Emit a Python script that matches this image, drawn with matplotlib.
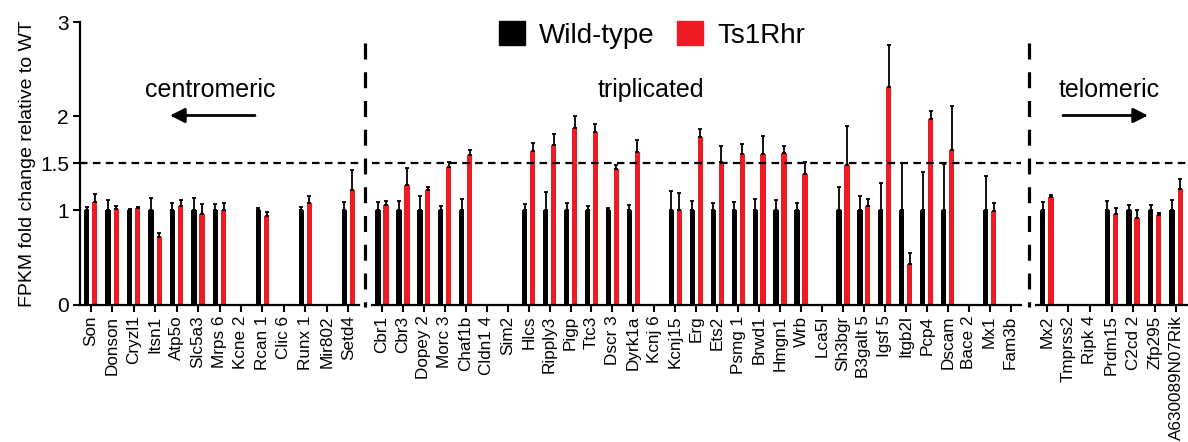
import matplotlib.pyplot as plt
import numpy as np
from matplotlib.lines import Line2D
from matplotlib.patches import Patch, FancyArrowPatch

plt.rcParams['font.family'] = ['Liberation Sans', 'DejaVu Sans']

nan = np.nan

# centromeric genes
cen_genes = ['Son', 'Donson', 'Cryzl1', 'Itsn1', 'Atp5o', 'Slc5a3', 'Mrps 6',
             'Kcne 2', 'Rcan 1', 'Clic 6', 'Runx 1', 'Mir802', 'Setd4']
cen_wt = [1, 1, 1, 1, 1, 1, 1, nan, 1, nan, 1, nan, 1]
cen_wt_err = [0.035, 0.11, 0.015, 0.13, 0.08, 0.13, 0.065, nan, 0.03, nan, 0.035, nan, 0.09]
cen_ts = [1.085, 1.02, 1.03, 0.72, 1.045, 0.965, 1.0, nan, 0.945, nan, 1.075, nan, 1.22]
cen_ts_err = [0.095, 0.03, 0.01, 0.04, 0.065, 0.10, 0.075, nan, 0.035, nan, 0.075, nan, 0.21]

# triplicated genes
tri_genes = ['Cbr1', 'Cbr3', 'Dopey 2', 'Morc 3', 'Chaf1b', 'Cldn1 4', 'Sim2', 'Hlcs',
             'Ripply3', 'Pigp', 'Ttc3', 'Dscr 3', 'Dyrk1a', 'Kcnj 6', 'Kcnj15', 'Erg',
             'Ets2', 'Psmg 1', 'Brwd1', 'Hmgn1', 'Wrb', 'Lca5l', 'Sh3bgr', 'B3galt 5',
             'Igsf 5', 'Itgb2l', 'Pcp4', 'Dscam', 'Bace 2', 'Mx1', 'Fam3b']
tri_wt = [1, 1, 1, 1, 1, nan, nan, 1, 1, 1, 1, 1, 1, nan, 1, 1,
          1, 1, 1, 1, 1, nan, 1, 1, 1, 1, 1, 1, nan, 1, nan]
tri_wt_err = [0.085, 0.10, 0.15, 0.045, 0.12, nan, nan, 0.065, 0.195, 0.075, 0.045, 0.03,
              0.06, nan, 0.21, 0.095, 0.08, 0.09, 0.12, 0.115, 0.08, nan, 0.25, 0.15,
              0.29, 0.5, 0.41, 0.49, nan, 0.37, nan]
tri_ts = [1.055, 1.27, 1.22, 1.46, 1.585, nan, nan, 1.63, 1.695, 1.88, 1.83, 1.44,
          1.62, nan, 1.0, 1.78, 1.52, 1.605, 1.6, 1.61, 1.39, nan, 1.485, 1.045,
          2.31, 0.435, 1.97, 1.64, nan, 0.995, nan]
tri_ts_err = [0.045, 0.18, 0.03, 0.06, 0.055, nan, nan, 0.09, 0.12, 0.12, 0.09, 0.045,
              0.13, nan, 0.19, 0.09, 0.17, 0.105, 0.19, 0.07, 0.12, nan, 0.415, 0.075,
              0.45, 0.115, 0.09, 0.47, nan, 0.085, nan]

# telomeric genes
tel_genes = ['Mx2', 'Tmprss2', 'Ripk 4', 'Prdm15', 'C2cd 2', 'Zfp295', 'A630089N07Rik']
tel_wt = [1, nan, nan, 1, 1, 1, 1]
tel_wt_err = [0.085, nan, nan, 0.095, 0.055, 0.055, 0.11]
tel_ts = [1.14, nan, nan, 0.965, 0.92, 0.95, 1.225]
tel_ts_err = [0.025, nan, nan, 0.065, 0.085, 0.02, 0.105]

RED = '#ED1C24'
W, H = 1188, 442

fig = plt.figure(figsize=(W / 100, H / 100), dpi=100)

bottom = 137.5 / H
height = 282.2 / H
ax_l = fig.add_axes([80 / W, bottom, 279 / W, height])
ax_m = fig.add_axes([371.5 / W, bottom, 649.5 / W, height])
ax_r = fig.add_axes([1036 / W, bottom, 151 / W, height])

groups = [
    (ax_l, cen_genes, cen_wt, cen_wt_err, cen_ts, cen_ts_err),
    (ax_m, tri_genes, tri_wt, tri_wt_err, tri_ts, tri_ts_err),
    (ax_r, tel_genes, tel_wt, tel_wt_err, tel_ts, tel_ts_err),
]

bw = 0.25
off = 0.19
for ax, genes, wt, wt_err, ts, ts_err in groups:
    x = np.arange(len(genes))
    wt = np.array(wt, dtype=float)
    ts = np.array(ts, dtype=float)
    ax.bar(x - off, wt, width=bw, color='black')
    ax.bar(x + off, ts, width=bw, color=RED)
    ax.errorbar(x - off, wt, yerr=[np.zeros(len(x)), wt_err], fmt='none',
                ecolor='black', elinewidth=1.3, capsize=1.5, capthick=1.3)
    ax.errorbar(x + off, ts, yerr=[np.zeros(len(x)), ts_err], fmt='none',
                ecolor='black', elinewidth=1.3, capsize=1.5, capthick=1.3)
    ax.axhline(1.5, color='black', lw=1.6, ls=(0, (3.4, 2.4)))
    ax.set_xlim(-0.5, len(genes) - 0.5)
    ax.set_ylim(0, 3)
    ax.set_xticks(x)
    ax.set_xticklabels(genes, rotation=90, fontsize=12.3)
    ax.tick_params(axis='x', length=5, width=1.5, pad=3)
    for s in ['top', 'right', 'left']:
        ax.spines[s].set_visible(False)
    ax.spines['bottom'].set_linewidth(1.6)
    ax.patch.set_alpha(0)

ax_l.spines['left'].set_visible(True)
ax_l.spines['left'].set_linewidth(1.6)
ax_l.set_yticks([0, 1, 1.5, 2, 3])
ax_l.set_yticklabels(['0', '1', '1.5', '2', '3'], fontsize=15)
ax_l.tick_params(axis='y', length=5, width=1.5, pad=3)
ax_l.set_ylabel('FPKM fold change relative to WT', fontsize=14, labelpad=3)
for ax in (ax_m, ax_r):
    ax.set_yticks([])

# dashed dividers between regions
for xp in (364.5, 1029):
    fig.add_artist(Line2D([xp / W, xp / W], [1 - 43 / H, 1 - 307 / H],
                          transform=fig.transFigure, color='black', lw=2.3,
                          ls=(0, (5, 4))))

# region labels and arrows
fig.text(210 / W, 1 - 90 / H, 'centromeric', fontsize=18, ha='center', va='center')
fig.text(651 / W, 1 - 90 / H, 'triplicated', fontsize=18, ha='center', va='center')
fig.text(1109 / W, 1 - 90 / H, 'telomeric', fontsize=18, ha='center', va='center')
arrow = dict(arrowstyle='-|>', lw=2, color='black', mutation_scale=22,
             shrinkA=0, shrinkB=0)
fig.add_artist(FancyArrowPatch((255 / W, 1 - 115.5 / H), (170 / W, 1 - 115.5 / H),
                               transform=fig.transFigure, **arrow))
fig.add_artist(FancyArrowPatch((1063 / W, 1 - 115.5 / H), (1148 / W, 1 - 115.5 / H),
                               transform=fig.transFigure, **arrow))

handles = [Patch(color='black', label='Wild-type'), Patch(color=RED, label='Ts1Rhr')]
fig.legend(handles=handles, loc='center', bbox_to_anchor=(652 / W, 1 - 35 / H),
           ncol=2, frameon=False, fontsize=20, handlelength=0.95, handleheight=0.95,
           handletextpad=0.5, columnspacing=0.8)

fig.savefig('out.png', dpi=100)
